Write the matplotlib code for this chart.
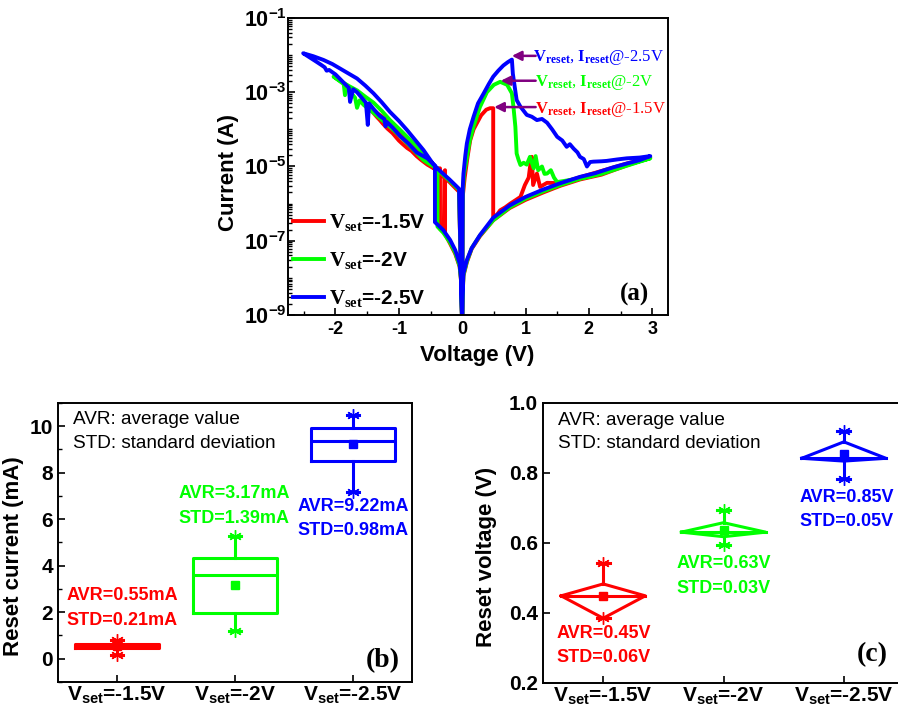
import numpy as np
import matplotlib
matplotlib.use('Agg')
import matplotlib.pyplot as plt
from matplotlib.ticker import FixedLocator, FuncFormatter, MultipleLocator, LogLocator, NullFormatter

plt.rcParams['font.family'] = 'Liberation Sans'
plt.rcParams['font.weight'] = 'bold'
plt.rcParams['axes.labelweight'] = 'bold'
plt.rcParams['axes.unicode_minus'] = False
plt.rcParams['mathtext.fontset'] = 'custom'
plt.rcParams['mathtext.rm'] = 'Liberation Serif'
plt.rcParams['mathtext.bf'] = 'Liberation Serif:bold'
plt.rcParams['mathtext.sf'] = 'Liberation Sans:bold'
plt.rcParams['mathtext.it'] = 'Liberation Serif:italic'
plt.rcParams['xtick.direction'] = 'in'
plt.rcParams['ytick.direction'] = 'in'
plt.rcParams['axes.linewidth'] = 1.4

RED, GREEN, BLUE, ARROW = '#ff0000', '#00ff00', '#0000ff', '#800080'

# ---- (a) I-V sweeps, log10(current in A) ----
v_15 = [0.0, -0.016, -0.04, -0.11, -0.19, -0.27, -0.27, -0.28, -0.29, -0.35, -0.35,
        -0.45, -0.55, -0.65, -0.72, -0.8, -0.87, -0.95, -1.0, -1.1, -1.18, -1.25, -1.3, -1.35, -1.42, -1.48,
        -1.4, -1.27, -1.14, -1.0, -0.87, -0.74, -0.61, -0.46, -0.35, -0.2, -0.05, 0.0,
        0.01, 0.04, 0.08, 0.126, 0.18, 0.23, 0.30, 0.38, 0.44, 0.49, 0.49,
        0.55, 0.6, 0.68, 0.76, 0.85, 0.92, 0.99, 1.05, 1.08, 1.1, 1.12, 1.18, 1.23, 1.34, 1.55,
        1.8, 2.2, 2.6, 2.97,
        2.6, 2.2, 1.86, 1.55, 1.28, 1.0, 0.75, 0.49, 0.28, 0.15, 0.074, 0.02, 0.005, 0.0]
logi_15 = [-9.3, -8.12, -7.7, -7.35, -7.08, -6.82, -5.1, -5.12, -6.78, -6.68, -5.05,
           -5.05, -4.95, -4.82, -4.72, -4.58, -4.5, -4.38, -4.3, -4.1, -3.98, -3.85, -3.75, -3.66, -3.52, -3.42,
           -3.5, -3.65, -3.85, -4.08, -4.28, -4.5, -4.72, -5.02, -5.18, -5.42, -5.68, -9.3,
           -5.8, -5.3, -4.8, -4.3, -4.0, -3.84, -3.62, -3.47, -3.43, -3.43, -6.38,
           -6.3, -6.18, -6.1, -6.0, -5.9, -5.82, -5.5, -5.3, -4.9, -4.74, -5.5, -5.19, -5.55, -5.44, -5.45,
           -5.32, -5.12, -4.92, -4.76,
           -4.97, -5.22, -5.35, -5.52, -5.7, -5.9, -6.12, -6.45, -6.88, -7.22, -7.58, -7.95, -8.6, -9.3]

v_20 = [0.0, -0.016, -0.04, -0.11, -0.19, -0.30, -0.39, -0.39,
        -0.5, -0.61, -0.74, -0.87, -1.0, -1.14, -1.3, -1.45, -1.55, -1.62, -1.66, -1.69, -1.77, -1.82,
        -1.85, -1.87, -1.95, -2.03,
        -1.9, -1.77, -1.66, -1.53, -1.4, -1.27, -1.14, -1.0, -0.87, -0.74, -0.61, -0.46, -0.35, -0.2, -0.05, 0.0,
        0.01, 0.03, 0.07, 0.12, 0.18, 0.28, 0.39, 0.5, 0.6, 0.71, 0.785, 0.81, 0.84, 0.86, 0.89, 0.92,
        0.97, 1.02, 1.07, 1.1, 1.13, 1.16, 1.2, 1.26, 1.3, 1.34, 1.4, 1.45, 1.5,
        2.0, 2.5, 2.97,
        2.6, 2.2, 1.86, 1.55, 1.28, 1.0, 0.75, 0.49, 0.28, 0.15, 0.074, 0.02, 0.005, 0.0]
logi_20 = [-9.3, -8.1, -7.68, -7.32, -7.05, -6.78, -6.62, -5.05,
           -4.95, -4.83, -4.6, -4.37, -4.15, -3.93, -3.7, -3.48, -3.35, -3.22, -3.42, -3.15, -2.98, -2.88,
           -3.08, -2.78, -2.68, -2.58,
           -2.72, -2.85, -2.95, -3.12, -3.28, -3.5, -3.75, -3.98, -4.2, -4.42, -4.65, -4.98, -5.15, -5.38, -5.63, -9.3,
           -5.7, -5.2, -4.8, -4.3, -3.92, -3.4, -3.0, -2.8, -2.72, -2.8, -3.03, -3.4, -3.93, -4.65, -4.82, -4.96,
           -4.9, -4.95, -4.74, -4.9, -5.05, -4.72, -5.1, -5.0, -5.2, -5.19, -5.1, -5.3, -5.42,
           -5.28, -5.0, -4.78,
           -4.98, -5.2, -5.33, -5.5, -5.67, -5.87, -6.1, -6.45, -6.86, -7.2, -7.56, -7.92, -8.6, -9.3]

v_25 = [0.0, -0.016, -0.04, -0.11, -0.19, -0.30, -0.43, -0.43,
        -0.55, -0.72, -0.85, -0.98, -1.1, -1.19, -1.21, -1.23, -1.3, -1.4, -1.47, -1.49, -1.52, -1.6, -1.66,
        -1.72, -1.77, -1.79, -1.85, -1.93, -2.0, -2.1, -2.14, -2.17, -2.22, -2.3, -2.4, -2.51,
        -2.35, -2.19, -2.05, -1.93, -1.8, -1.66, -1.53, -1.4, -1.27, -1.14, -1.0, -0.87, -0.74, -0.61, -0.46,
        -0.35, -0.2, -0.05, 0.0,
        0.01, 0.02, 0.05, 0.074, 0.12, 0.18, 0.25, 0.34, 0.42, 0.49, 0.57, 0.65, 0.72, 0.785,
        0.80, 0.86, 0.92, 0.97, 1.02, 1.1, 1.18, 1.26, 1.34, 1.42, 1.5, 1.58, 1.65, 1.7, 1.76, 1.82, 1.86,
        1.92, 1.97, 2.02, 2.07, 2.2, 2.28, 2.45, 2.6, 2.8, 2.97,
        2.8, 2.6, 2.39, 2.1, 1.86, 1.55, 1.28, 1.0, 0.75, 0.49, 0.28, 0.15, 0.074, 0.02, 0.005, 0.0]
logi_25 = [-9.3, -8.06, -7.61, -7.25, -6.98, -6.71, -6.5, -4.98,
           -4.78, -4.62, -4.38, -4.18, -3.95, -3.8, -3.92, -3.72, -3.64, -3.45, -3.3, -3.88, -3.28, -3.12, -3.0,
           -2.92, -3.26, -2.88, -2.78, -2.64, -2.52, -2.4, -2.42, -2.33, -2.27, -2.18, -2.07, -1.95,
           -2.03, -2.13, -2.24, -2.36, -2.49, -2.63, -2.82, -3.03, -3.27, -3.53, -3.77, -4.02, -4.29, -4.56, -4.93,
           -5.12, -5.35, -5.6, -9.3,
           -5.55, -5.2, -4.7, -4.38, -4.0, -3.66, -3.3, -3.03, -2.78, -2.58, -2.42, -2.28, -2.19, -2.12,
           -2.5, -3.21, -3.39, -3.5, -3.61, -3.66, -3.75, -3.72, -3.82, -4.0, -4.2, -4.3, -4.47, -4.4, -4.52, -4.62, -4.74,
           -4.8, -5.0, -4.88, -4.87, -4.86, -4.85, -4.81, -4.78, -4.76, -4.72,
           -4.83, -4.92, -5.02, -5.18, -5.28, -5.45, -5.62, -5.82, -6.05, -6.38, -6.85, -7.2, -7.52, -7.88, -8.5, -9.3]

# ---- (b) reset current (mA) ----
labels_b = [r'$\mathsf{V_{set}}$=-1.5V', r'$\mathsf{V_{set}}$=-2V', r'$\mathsf{V_{set}}$=-2.5V']
ib_q1 = [0.47, 1.98, 8.52]
ib_med = [0.55, 3.59, 9.38]
ib_q3 = [0.63, 4.35, 9.93]
ib_lo = [0.16, 1.19, 7.16]
ib_hi = [0.81, 5.30, 10.5]
ib_mean = [0.55, 3.17, 9.22]
ib_avr = ['AVR=0.55mA', 'AVR=3.17mA', 'AVR=9.22mA']
ib_std = ['STD=0.21mA', 'STD=1.39mA', 'STD=0.98mA']

# ---- (c) reset voltage (V) ----
vc_q1 = [0.385, 0.618, 0.834]
vc_mid = [0.449, 0.631, 0.842]
vc_q3 = [0.483, 0.658, 0.889]
vc_lo = [0.385, 0.594, 0.782]
vc_hi = [0.544, 0.694, 0.921]
vc_mean = [0.449, 0.637, 0.854]
vc_avr = ['AVR=0.45V', 'AVR=0.63V', 'AVR=0.85V']
vc_std = ['STD=0.06V', 'STD=0.03V', 'STD=0.05V']

colors = [RED, GREEN, BLUE]
star = (6, 2, 0)

fig = plt.figure(figsize=(8.98, 7.11), dpi=100)

# ================= (a) =================
ax = fig.add_axes([0.3207, 0.557, 0.4232, 0.4177])
series = [(v_15, logi_15, RED, r'$\mathrm{V}_{\mathbf{set}}$=-1.5V'),
          (v_20, logi_20, GREEN, r'$\mathrm{V}_{\mathbf{set}}$=-2V'),
          (v_25, logi_25, BLUE, r'$\mathrm{V}_{\mathbf{set}}$=-2.5V')]
for v, li, c, lab in series:
    ax.plot(v, 10 ** np.array(li), color=c, lw=2.8, label=lab)
ax.set_yscale('log')
ax.set_xlim(-2.75, 3.25)
ax.set_ylim(1e-9, 1e-1)
ax.yaxis.set_major_locator(FixedLocator([1e-9, 1e-7, 1e-5, 1e-3, 1e-1]))
ax.yaxis.set_minor_locator(LogLocator(base=10, subs=np.arange(1, 10), numticks=100))
ax.yaxis.set_minor_formatter(NullFormatter())
ax.yaxis.set_major_formatter(FuncFormatter(lambda y, p: r'$\mathsf{10^{%d}}$' % round(np.log10(y))))
ax.xaxis.set_major_locator(MultipleLocator(1))
ax.xaxis.set_minor_locator(MultipleLocator(0.5))
ax.tick_params(axis='x', which='major', labelsize=13, length=5, width=1.2, pad=4)
ax.tick_params(axis='y', which='major', labelsize=15.5, length=5, width=1.2, pad=1)
ax.tick_params(which='minor', length=3, width=1)
ax.set_xlabel('Voltage (V)', fontsize=16)
ax.set_ylabel('Current (A)', fontsize=16)
ax.xaxis.set_label_coords(0.497, -0.10)
ax.yaxis.set_label_coords(-0.128, 0.48)

leg = ax.legend(loc='lower left', bbox_to_anchor=(0.012, 0.02), frameon=False,
                prop={'family': 'Liberation Sans', 'weight': 'bold', 'size': 15},
                handlelength=1.5, handletextpad=0.25, labelspacing=0.82,
                borderpad=0, borderaxespad=0)

ann = [(0.785, -2.02, 1.12, -2.16, BLUE, '-2.5V'),
       (0.61, -2.69, 1.15, -2.83, GREEN, '-2V'),
       (0.505, -3.40, 1.15, -3.55, RED, '-1.5V')]
for xt, yt, xx, yy, c, s in ann:
    ax.annotate('', xy=(xt, 10 ** yt), xytext=(1.16, 10 ** yt),
                arrowprops=dict(arrowstyle='-|>', color=ARROW, lw=1.8, mutation_scale=14,
                                shrinkA=0, shrinkB=0))
    ax.text(xx, 10 ** yy, r'$\mathrm{V}_{\mathbf{reset}}$, $\mathrm{I}_{\mathbf{reset}}$@' + s,
            color=c, family='Liberation Serif', weight='normal', fontsize=12, va='baseline')
ax.text(0.913, 0.07, '(a)', transform=ax.transAxes, family='Liberation Serif',
        weight='bold', fontsize=18, ha='center', va='center')

# ================= (b) =================
axb = fig.add_axes([0.0646, 0.0408, 0.3942, 0.3924])
for i, c in enumerate(colors):
    st = dict(med=ib_med[i], q1=ib_q1[i], q3=ib_q3[i], whislo=ib_lo[i], whishi=ib_hi[i],
              mean=ib_mean[i], fliers=[ib_lo[i], ib_hi[i]])
    axb.bxp([st], positions=[i + 1], widths=0.71, capwidths=0.11, showmeans=True,
            showfliers=True, manage_ticks=False,
            boxprops=dict(color=c, lw=2.2), whiskerprops=dict(color=c, lw=2.2),
            capprops=dict(color=c, lw=2.2), medianprops=dict(color=c, lw=2.2),
            meanprops=dict(marker='s', markerfacecolor=c, markeredgecolor=c, markersize=5.5),
            flierprops=dict(marker=star, markeredgecolor=c, markersize=9, markeredgewidth=1))
axb.set_xlim(0.5, 3.5)
axb.set_ylim(-1, 11)
axb.set_xticks([1, 2, 3])
axb.set_xticklabels(labels_b)
axb.yaxis.set_major_locator(MultipleLocator(2))
axb.yaxis.set_minor_locator(MultipleLocator(1))
axb.tick_params(which='major', labelsize=15, length=5, width=1.2)
axb.tick_params(axis='x', pad=2)
axb.tick_params(which='minor', length=3, width=1)
axb.set_ylabel('Reset current (mA)', fontsize=16)
axb.yaxis.set_label_coords(-0.095, 0.45)
axb.text(0.626, 10.3, 'AVR: average value', fontsize=13.7, weight='normal', va='center')
axb.text(0.626, 9.27, 'STD: standard deviation', fontsize=13.7, weight='normal', va='center')
txt_b = [(0.574, 2.72, 1.65), (1.524, 7.1, 6.05), (2.526, 6.55, 5.5)]
for i, (x0, ya, ys) in enumerate(txt_b):
    axb.text(x0, ya, ib_avr[i], color=colors[i], fontsize=13, va='center')
    axb.text(x0, ys, ib_std[i], color=colors[i], fontsize=13, va='center')
axb.text(3.255, -0.06, '(b)', family='Liberation Serif', weight='bold', fontsize=20,
         ha='center', va='center')

# ================= (c) =================
axc = fig.add_axes([0.6047, 0.0394, 0.402, 0.3938])
hw, cw = 0.35, 0.055
for i, c in enumerate(colors):
    x0 = i + 1
    axc.plot([x0 - hw, x0, x0 + hw, x0, x0 - hw],
             [vc_mid[i], vc_q3[i], vc_mid[i], vc_q1[i], vc_mid[i]], color=c, lw=2.2)
    axc.plot([x0 - hw, x0 + hw], [vc_mid[i], vc_mid[i]], color=c, lw=2.2)
    axc.plot([x0, x0], [vc_q3[i], vc_hi[i]], color=c, lw=2.2)
    axc.plot([x0, x0], [vc_lo[i], vc_q1[i]], color=c, lw=2.2)
    axc.plot([x0 - cw, x0 + cw], [vc_hi[i], vc_hi[i]], color=c, lw=2.2)
    axc.plot([x0 - cw, x0 + cw], [vc_lo[i], vc_lo[i]], color=c, lw=2.2)
    axc.plot([x0, x0], [vc_lo[i], vc_hi[i]], ls='none', marker=star, color=c,
             markersize=9, markeredgewidth=1)
    axc.plot([x0], [vc_mean[i]], ls='none', marker='s', color=c, markersize=5.5)
axc.set_xlim(0.5, 3.5)
axc.set_ylim(0.2, 1.0)
axc.set_xticks([1, 2, 3])
axc.set_xticklabels(labels_b)
axc.yaxis.set_major_locator(MultipleLocator(0.2))
axc.yaxis.set_major_formatter(FuncFormatter(lambda y, p: '%.1f' % y))
axc.tick_params(which='major', labelsize=15, length=5, width=1.2)
axc.tick_params(axis='x', pad=2)
axc.set_ylabel('Reset voltage (V)', fontsize=16)
axc.yaxis.set_label_coords(-0.128, 0.45)
axc.text(0.627, 0.951, 'AVR: average value', fontsize=13.7, weight='normal', va='center')
axc.text(0.627, 0.885, 'STD: standard deviation', fontsize=13.7, weight='normal', va='center')
txt_c = [(0.613, 0.342, 0.272), (1.609, 0.542, 0.471), (2.632, 0.731, 0.661)]
for i, (x0, ya, ys) in enumerate(txt_c):
    axc.text(x0, ya, vc_avr[i], color=colors[i], fontsize=13, va='center')
    axc.text(x0, ys, vc_std[i], color=colors[i], fontsize=13, va='center')
axc.text(3.24, 0.28, '(c)', family='Liberation Serif', weight='bold', fontsize=20,
         ha='center', va='center')

fig.savefig('out.png', dpi=100)
